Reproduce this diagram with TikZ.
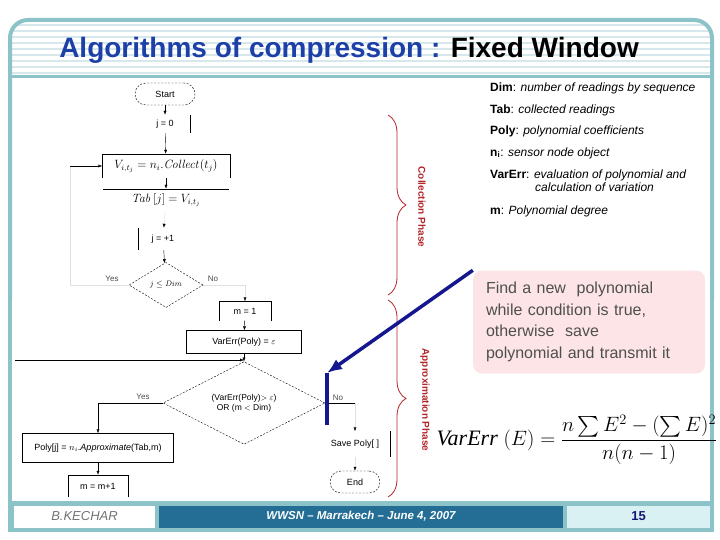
\documentclass[tikz,border=0pt]{standalone}
\usepackage[no-math]{fontspec}
\usepackage{exscale}
\setmainfont{Liberation Sans}
\newfontfamily\timesfont{Liberation Serif}
\usetikzlibrary{shapes.geometric,arrows.meta,decorations.pathreplacing}

\definecolor{slideteal}{HTML}{8CC3C8}
\definecolor{stripeteal}{HTML}{D6E8EB}
\definecolor{titleblue}{HTML}{1C3FA8}
\definecolor{footblue}{HTML}{246E96}
\definecolor{footcyan}{HTML}{D9F1F3}
\definecolor{numblue}{HTML}{14167A}
\definecolor{phasered}{HTML}{B3262B}
\definecolor{notepink}{HTML}{FDE5E7}
\definecolor{notegray}{HTML}{4F4F4F}
\definecolor{pointblue}{HTML}{15178F}

\tikzset{
  term/.style={draw, dash pattern=on 2pt off 1.5pt, rounded corners=11pt, minimum width=60pt, minimum height=22pt, font=\fontsize{9}{10}\selectfont},
  proc/.style={draw, inner sep=1pt, font=\fontsize{9}{10}\selectfont},
  open/.style={inner sep=1pt, font=\fontsize{9}{10}\selectfont},
  test/.style={draw, dash pattern=on 2pt off 1.5pt, diamond, inner sep=0pt, align=center, font=\fontsize{8.5}{10}\selectfont},
  flow/.style={-{Latex[length=4pt,width=3pt]}},
  faintflow/.style={draw=black!12, -{Latex[length=4pt,width=3pt,black]}},
  faint/.style={draw=black!12},
  branch/.style={text=black!70, font=\fontsize{8}{9}\selectfont},
  legend/.style={anchor=west, inner sep=0pt, align=left, font=\fontsize{12}{13}\selectfont},
  phase/.style={rotate=-90, text=phasered, font=\bfseries\fontsize{10}{12}\selectfont},
  phasebrace/.style={draw=phasered, line width=0.8pt, decorate, decoration={brace, amplitude=18pt}},
  note/.style={fill=notepink, rounded corners=9pt, minimum width=232pt, minimum height=103pt, text width=206pt, align=left, text=notegray, font=\fontsize{16}{21.5}\selectfont},
  pointer/.style={draw=pointblue, line width=3.5pt, -{Latex[length=15pt,width=12pt]}},
  footbox/.style={minimum height=22pt, inner sep=0pt},
}

\begin{document}
\begin{tikzpicture}[x=1pt,y=-1pt]
  \useasboundingbox (0,0) rectangle (720,540);
  \fill[white] (0,0) rectangle (720,540);

  % Title band with stripes
  \begin{scope}
    \clip[rounded corners=18pt] (8,20) rectangle (714,110);
    \foreach \y in {24,30,...,72} \fill[stripeteal] (8,\y) rectangle (714,\y+2.5);
  \end{scope}
  \draw[slideteal, line width=4pt, rounded corners=18pt] (10,300) -- (10,20) -- (712,20) -- (712,300);
  \draw[slideteal, line width=4pt] (10,300) -- (10,530) -- (712,530) -- (712,300);
  \draw[slideteal, line width=3pt] (10,77) -- (712,77);
  \node[font=\bfseries\fontsize{28}{32}\selectfont] (title) at (349,50)
    {\textcolor{titleblue}{Algorithms of compression :} Fixed Window};

  % Footer
  \fill[slideteal] (10,501) rectangle (712,531);
  \node[footbox, fill=white, minimum width=141pt, text=black!55, font=\itshape\fontsize{13}{15}\selectfont] (author) at (84.5,516.5) {B.KECHAR};
  \node[footbox, fill=footblue, minimum width=404pt, text=white, font=\bfseries\itshape\fontsize{11.5}{13}\selectfont] (venue) at (361,516.5) {WWSN -- Marrakech -- June 4, 2007};
  \node[footbox, fill=footcyan, minimum width=143pt, text=numblue, font=\bfseries\fontsize{13}{15}\selectfont] (page) at (638.5,516.5) {15};

  % Collection phase
  \node[term] (start) at (165,94) {Start};
  \node[open, minimum width=50pt, minimum height=18pt] (j0) at (165,124) {j = 0};
  \draw (j0.north east) -- (j0.south east);
  \node[open, minimum width=127pt, minimum height=24pt, font=\fontsize{12}{14}\selectfont] (collect) at (166,166) {$V_{i,t_j}=n_i.\mathit{Collect}(t_j)$};
  \draw (collect.south west) -- (collect.north west) -- (collect.north east) -- (collect.south east);
  \node[open, minimum width=125pt, minimum height=22pt, font=\fontsize{12}{14}\selectfont] (tab) at (166,200) {$\mathit{Tab}\,[j]=V_{i,t_j}$};
  \draw (tab.north west) -- (tab.north east);
  \node[open, minimum width=50pt, minimum height=22pt] (inc) at (163,239) {j = +1};
  \draw (inc.north west) -- (inc.south west);
  \node[test, minimum width=74pt, minimum height=45pt] (d1) at (166,285) {$j\le\mathit{Dim}$};
  \node[branch] (yes1) at (112,279) {Yes};
  \node[branch] (no1) at (213,279) {No};

  % Approximation phase
  \node[open, minimum width=52pt, minimum height=19pt] (m1) at (245,311) {m = 1};
  \draw (m1.south west) -- (m1.north west) -- (m1.north east) -- (m1.south east);
  \node[proc, minimum width=115pt, minimum height=23pt] (varerr) at (244,342) {VarErr(Poly) = $\varepsilon$};
  \node[test, minimum width=162pt, minimum height=65pt] (d2) at (244,403) {(VarErr(Poly)$>\varepsilon$)\\OR (m $<$ Dim)};
  \node[branch] (yes2) at (143,397) {Yes};
  \node[branch] (no2) at (338,398) {No};
  \node[proc, minimum width=151pt, minimum height=29pt] (poly) at (98,448) {Poly[j] = $n_i$.\textit{Approximate}(Tab,m)};
  \node[open, minimum width=60pt, minimum height=22pt] (m2) at (98,486) {m = m+1};
  \draw (m2.south west) -- (m2.north west) -- (m2.north east) -- (m2.south east);
  \node[open, minimum width=70pt, minimum height=25pt] (save) at (355,444) {Save Poly[ ]};
  \draw (save.north east) -- (save.south east);
  \node[term, minimum width=50pt] (stop) at (355,482) {End};

  % Connectors
  \coordinate (yesL) at (70,285);
  \coordinate (yesT) at (70,166);
  \coordinate (loopA) at (15,360);
  \coordinate (loopB) at (244,360);
  \coordinate (noR) at (355,403);
  \draw[flow] (start) -- (j0);
  \draw[flow] (j0) -- (collect);
  \draw[flow] (collect) -- (tab);
  \draw[faintflow] (tab) -- (inc);
  \draw[flow] (inc) -- (d1);
  \draw[faint] (d1.west) -- (yesL) -- (yesT);
  \draw[flow] (yesT) -- (collect.west);
  \draw[faintflow] (d1.east) -| (m1.north);
  \draw[flow] (m1) -- (varerr);
  \draw[flow] (varerr) -- (d2);
  \draw[flow] (loopA) -- (loopB);
  \draw[flow] (d2.west) -| (poly.north);
  \draw[flow] (poly) -- (m2);
  \draw (d2.east) -- (noR);
  \draw[faintflow] (noR) -- (save);
  \draw[faintflow] (save) -- (stop);

  % Phase braces
  \draw[phasebrace] (388,115) -- (388,295);
  \draw[phasebrace] (388,300) -- (388,497);
  \node[phase] (collab) at (422,207) {Collection Phase};
  \node[phase] (approxlab) at (425,400) {Approximation Phase};

  % Legend
  \node[legend] (ldim) at (490,88) {\textbf{Dim}: \textit{number of readings by sequence}};
  \node[legend] (ltab) at (490,110) {\textbf{Tab}: \textit{collected readings}};
  \node[legend] (lpoly) at (490,131) {\textbf{Poly}: \textit{polynomial coefficients}};
  \node[legend] (lni) at (490,153) {\textbf{n\textsubscript{i}}: \textit{sensor node object}};
  \node[legend] (lvar) at (490,181) {\textbf{VarErr}: \textit{evaluation of polynomial and}\\\hspace*{45pt}\textit{calculation of variation}};
  \node[legend] (lm) at (490,211) {\textbf{m}: \textit{Polynomial degree}};

  % Note and pointer
  \node[note] (note) at (589,322) {Find a new\ \ polynomial\\while condition is true,\\otherwise\ \ save\\polynomial and transmit it};
  \coordinate (tip) at (327,373);
  \coordinate (tipend) at (327,425);
  \draw[pointer] (note.north west) -- (tip);
  \draw[draw=pointblue, line width=3.5pt] (tip) -- (tipend);

  % Variance formula
  \node[font=\fontsize{22}{26}\selectfont, inner sep=0pt] (formula) at (577,440)
    {$\displaystyle \mbox{\timesfont\itshape VarErr}\;(E)=\frac{n\sum E^2-(\sum E)^2}{n(n-1)}$};
\end{tikzpicture}
\end{document}
